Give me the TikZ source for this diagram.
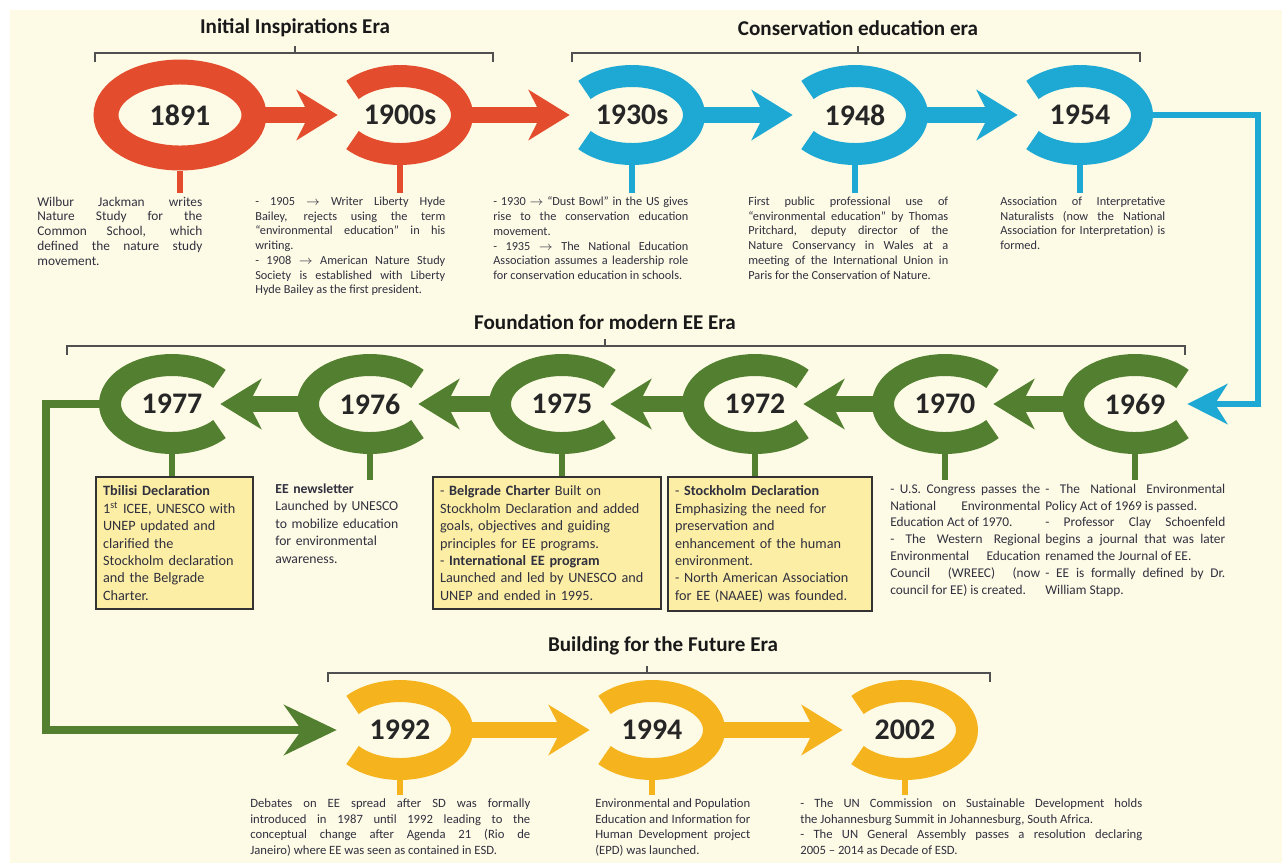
\documentclass[tikz,border=0pt]{standalone}
\usepackage{fontspec}
\setmainfont{Carlito}
\usepackage{tikz}
\usetikzlibrary{arrows.meta,shapes.geometric,positioning}
\definecolor{cRed}{RGB}{227,76,44}
\definecolor{cBlue}{RGB}{30,168,212}
\definecolor{cGreen}{RGB}{82,128,48}
\definecolor{cOrange}{RGB}{245,180,30}
\definecolor{cFill}{RGB}{252,238,165}
\definecolor{cBg}{RGB}{253,250,230}
\definecolor{cTxt}{RGB}{48,48,62}
\definecolor{cBrack}{RGB}{80,80,80}
\hyphenpenalty=10000
\exhyphenpenalty=10000
\tikzset{
  yr/.style={ellipse, minimum width=2.92cm, minimum height=2cm, inner sep=0pt, text=black!85, font=\fontsize{17}{20}\selectfont\bfseries},
  yrbig/.style={yr, minimum width=3.46cm, minimum height=2.22cm},
  era/.style={font=\fontsize{12}{14}\selectfont\bfseries, text=black!90},
  ring/.style={line width=12.5pt},
  shaft/.style={line width=9pt, -{Stealth[length=0.82cm, width=1cm, inset=0.25cm]}},
  stem/.style={line width=3.4pt},
  brack/.style={draw=cBrack, line width=1pt},
  txt/.style={anchor=north west, inner xsep=0pt, inner ysep=2pt, align=justify, text=cTxt, font=\fontsize{7}{8.4}\selectfont},
  txtb/.style={txt, font=\fontsize{7.6}{9.6}\selectfont},
  txtc/.style={txt, font=\fontsize{7.2}{8.9}\selectfont},
  box/.style={anchor=north west, draw=black!80, line width=1.2pt, fill=cFill, inner xsep=4pt, inner ysep=5pt, align=left, text=cTxt, font=\fontsize{8.1}{9.9}\selectfont},
}
\begin{document}
\begin{tikzpicture}[x=0.02cm, y=-0.02cm]
\useasboundingbox (0,0) rectangle (1282,863);
\fill[white] (0,0) rectangle (1282,863);
\fill[cBg] (10,10) rectangle (1282,863);

\node[era] (t1) at (295,28) {Initial Inspirations Era};
\node[era] (t2) at (858,28) {Conservation education era};
\node[era] (t3) at (605,322) {Foundation for modern EE Era};
\node[era] (t4) at (663,646) {Building for the Future Era};
\draw[brack] (95,62) -- (95,53) -- (493,53) -- (493,62); \draw[brack] (295,53) -- (295,46);
\draw[brack] (572,62) -- (572,53) -- (1140,53) -- (1140,62); \draw[brack] (858,53) -- (858,46);
\draw[brack] (67,355) -- (67,346) -- (1185,346) -- (1185,355); \draw[brack] (605,346) -- (605,339);
\draw[brack] (328,682) -- (328,673) -- (990,673) -- (990,682); \draw[brack] (647,673) -- (647,666);

\node[yrbig] (y1891) at (180,115) {1891};
\node[yr] (y1900) at (400,115) {1900s};
\node[yr] (y1930) at (632,115) {1930s};
\node[yr] (y1948) at (855,115) {1948};
\node[yr] (y1954) at (1080,115) {1954};
\node[yr] (y1969) at (1135,404) {1969};
\node[yr] (y1970) at (945,404) {1970};
\node[yr] (y1972) at (755,404) {1972};
\node[yr] (y1975) at (562,404) {1975};
\node[yr] (y1976) at (370,404) {1976};
\node[yr] (y1977) at (172,404) {1977};
\node[yr] (y1992) at (400,730) {1992};
\node[yr] (y1994) at (652,730) {1994};
\node[yr] (y2002) at (905,730) {2002};

\draw[ring, line width=14.2pt, cRed] (y1891.center) ellipse [x radius=1.48cm, y radius=0.86cm];
\draw[ring, cRed] (y1900.center) ++(140:1.24cm and 0.78cm) arc[start angle=140, end angle=-140, x radius=1.24cm, y radius=0.78cm];
\draw[ring, cBlue] (y1930.center) ++(140:1.24cm and 0.78cm) arc[start angle=140, end angle=-140, x radius=1.24cm, y radius=0.78cm];
\draw[ring, cBlue] (y1948.center) ++(140:1.24cm and 0.78cm) arc[start angle=140, end angle=-140, x radius=1.24cm, y radius=0.78cm];
\draw[ring, cBlue] (y1954.center) ++(140:1.24cm and 0.78cm) arc[start angle=140, end angle=-140, x radius=1.24cm, y radius=0.78cm];
\draw[ring, cGreen] (y1969.center) ++(40:1.24cm and 0.78cm) arc[start angle=40, end angle=320, x radius=1.24cm, y radius=0.78cm];
\draw[ring, cGreen] (y1970.center) ++(40:1.24cm and 0.78cm) arc[start angle=40, end angle=320, x radius=1.24cm, y radius=0.78cm];
\draw[ring, cGreen] (y1972.center) ++(40:1.24cm and 0.78cm) arc[start angle=40, end angle=320, x radius=1.24cm, y radius=0.78cm];
\draw[ring, cGreen] (y1975.center) ++(40:1.24cm and 0.78cm) arc[start angle=40, end angle=320, x radius=1.24cm, y radius=0.78cm];
\draw[ring, cGreen] (y1976.center) ++(40:1.24cm and 0.78cm) arc[start angle=40, end angle=320, x radius=1.24cm, y radius=0.78cm];
\draw[ring, cGreen] (y1977.center) ++(40:1.24cm and 0.78cm) arc[start angle=40, end angle=320, x radius=1.24cm, y radius=0.78cm];
\draw[ring, cOrange] (y1992.center) ++(140:1.24cm and 0.78cm) arc[start angle=140, end angle=-140, x radius=1.24cm, y radius=0.78cm];
\draw[ring, cOrange] (y1994.center) ++(140:1.24cm and 0.78cm) arc[start angle=140, end angle=-140, x radius=1.24cm, y radius=0.78cm];
\draw[ring, cOrange] (y2002.center) ++(140:1.24cm and 0.78cm) arc[start angle=140, end angle=-140, x radius=1.24cm, y radius=0.78cm];

\draw[shaft, cRed] ([xshift=-0.1cm]y1891.east) -- ([xshift=0.22cm]y1900.west);
\draw[shaft, cRed] ([xshift=-0.1cm]y1900.east) -- ([xshift=0.22cm]y1930.west);
\draw[shaft, cBlue] ([xshift=-0.1cm]y1930.east) -- ([xshift=0.22cm]y1948.west);
\draw[shaft, cBlue] ([xshift=-0.1cm]y1948.east) -- ([xshift=0.22cm]y1954.west);
\draw[shaft, cGreen] ([xshift=0.1cm]y1969.west) -- ([xshift=-0.5cm]y1970.east);
\draw[shaft, cGreen] ([xshift=0.1cm]y1970.west) -- ([xshift=-0.5cm]y1972.east);
\draw[shaft, cGreen] ([xshift=0.1cm]y1972.west) -- ([xshift=-0.5cm]y1975.east);
\draw[shaft, cGreen] ([xshift=0.1cm]y1975.west) -- ([xshift=-0.5cm]y1976.east);
\draw[shaft, cGreen] ([xshift=0.1cm]y1976.west) -- ([xshift=-0.5cm]y1977.east);
\draw[shaft, cOrange] ([xshift=-0.1cm]y1992.east) -- ([xshift=0.22cm]y1994.west);
\draw[shaft, cOrange] ([xshift=-0.1cm]y1994.east) -- ([xshift=0.22cm]y2002.west);

\coordinate (bR) at (1258,115);
\coordinate (gL) at (46,404);
\draw[cBlue, line width=3.8pt, -{Stealth[length=0.8cm, width=0.8cm, inset=0.25cm]}] ([xshift=-0.1cm]y1954.east) -- (bR) |- ([xshift=-0.42cm]y1969.east);
\draw[cGreen, line width=5pt, -{Stealth[length=1.05cm, width=1cm, inset=0.35cm]}] ([xshift=0.1cm]y1977.west) -- (gL) |- ([xshift=0.2cm]y1992.west);

\node[txt, text width=3.3cm, font=\fontsize{7.6}{8.4}\selectfont] (d1891) at (37,193) {Wilbur Jackman writes \linebreak Nature Study for the \linebreak Common School, which \linebreak defined the nature study \linebreak movement.};
\node[txt, text width=3.8cm] (d1900) at (255,193) {- 1905 $\rightarrow$ Writer Liberty Hyde \linebreak Bailey, rejects using the term \linebreak “environmental education” in his \linebreak writing.\\ - 1908 $\rightarrow$ American Nature Study \linebreak Society is established with Liberty \linebreak Hyde Bailey as the first president.};
\node[txt, text width=3.9cm] (d1930) at (493,193) {- 1930 $\rightarrow$ “Dust Bowl” in the US gives \linebreak rise to the conservation education \linebreak movement.\\ - 1935 $\rightarrow$ The National Education \linebreak Association assumes a leadership role \linebreak for conservation education in schools.};
\node[txt, text width=4cm] (d1948) at (748,193) {First public professional use of \linebreak “environmental education” by Thomas \linebreak Pritchard, deputy director of the \linebreak Nature Conservancy in Wales at a \linebreak meeting of the International Union in \linebreak Paris for the Conservation of Nature.};
\node[txt, text width=3.3cm] (d1954) at (1000,193) {Association of Interpretative \linebreak Naturalists (now the National \linebreak Association for Interpretation) is \linebreak formed.};

\node[box, text width=2.85cm] (b1977) at (95,476) {\textbf{Tbilisi Declaration}\\ 1\textsuperscript{st} ICEE, UNESCO with\\ UNEP updated and\\ clarified the\\ Stockholm declaration\\ and the Belgrade\\ Charter.};
\node[txtb, text width=2.6cm, align=left, font=\fontsize{7.8}{9.9}\selectfont] (d1976) at (275,480) {\textbf{EE newsletter}\\ Launched by UNESCO\\ to mobilize education\\ for environmental\\ awareness.};
\node[box, text width=4.28cm] (b1975) at (432,476) {- \textbf{Belgrade Charter} Built on\\ Stockholm Declaration and added\\ goals, objectives and guiding\\ principles for EE programs.\\ - \textbf{International EE program}\\ Launched and led by UNESCO and\\ UNEP and ended in 1995.};
\node[box, text width=3.8cm] (b1972) at (667,476) {- \textbf{Stockholm Declaration}\\ Emphasizing the need for\\ preservation and\\ enhancement of the human\\ environment.\\ - North American Association\\ for EE (NAAEE) was founded.};
\node[txtb, text width=3cm] (d1970) at (890,480) {- U.S. Congress passes the \linebreak National Environmental \linebreak Education Act of 1970.\\ - The Western Regional \linebreak Environmental Education \linebreak Council (WREEC) (now \linebreak council for EE) is created.};
\node[txtb, text width=3.6cm] (d1969) at (1045,480) {- The National Environmental \linebreak Policy Act of 1969 is passed.\\ - Professor Clay Schoenfeld \linebreak begins a journal that was later \linebreak renamed the Journal of EE.\\ - EE is formally defined by Dr. \linebreak William Stapp.};

\node[txtc, text width=5.6cm] (d1992) at (250,795) {Debates on EE spread after SD was formally \linebreak introduced in 1987 until 1992 leading to the \linebreak conceptual change after Agenda 21 (Rio de \linebreak Janeiro) where EE was seen as contained in ESD.};
\node[txtc, text width=3.1cm] (d1994) at (595,795) {Environmental and Population \linebreak Education and Information for \linebreak Human Development project \linebreak (EPD) was launched.};
\node[txtc, text width=6.84cm] (d2002) at (800,795) {- The UN Commission on Sustainable Development holds \linebreak the Johannesburg Summit in Johannesburg, South Africa.\\ - The UN General Assembly passes a resolution declaring \linebreak 2005 -- 2014 as Decade of ESD.};

\draw[stem, cRed] (y1891.south) -- (y1891.south |- d1891.north);
\draw[stem, cRed] (y1900.south) -- (y1900.south |- d1900.north);
\draw[stem, cBlue] (y1930.south) -- (y1930.south |- d1930.north);
\draw[stem, cBlue] (y1948.south) -- (y1948.south |- d1948.north);
\draw[stem, cBlue] (y1954.south) -- (y1954.south |- d1954.north);
\draw[stem, cGreen] (y1977.south) -- (y1977.south |- b1977.north);
\draw[stem, cGreen] (y1976.south) -- (y1976.south |- d1976.north);
\draw[stem, cGreen] (y1975.south) -- (y1975.south |- b1975.north);
\draw[stem, cGreen] (y1972.south) -- (y1972.south |- b1972.north);
\draw[stem, cGreen] (y1970.south) -- (y1970.south |- d1970.north);
\draw[stem, cGreen] (y1969.south) -- (y1969.south |- d1969.north);
\draw[stem, cOrange] (y1992.south) -- (y1992.south |- d1992.north);
\draw[stem, cOrange] (y1994.south) -- (y1994.south |- d1994.north);
\draw[stem, cOrange] (y2002.south) -- (y2002.south |- d2002.north);
\end{tikzpicture}
\end{document}
